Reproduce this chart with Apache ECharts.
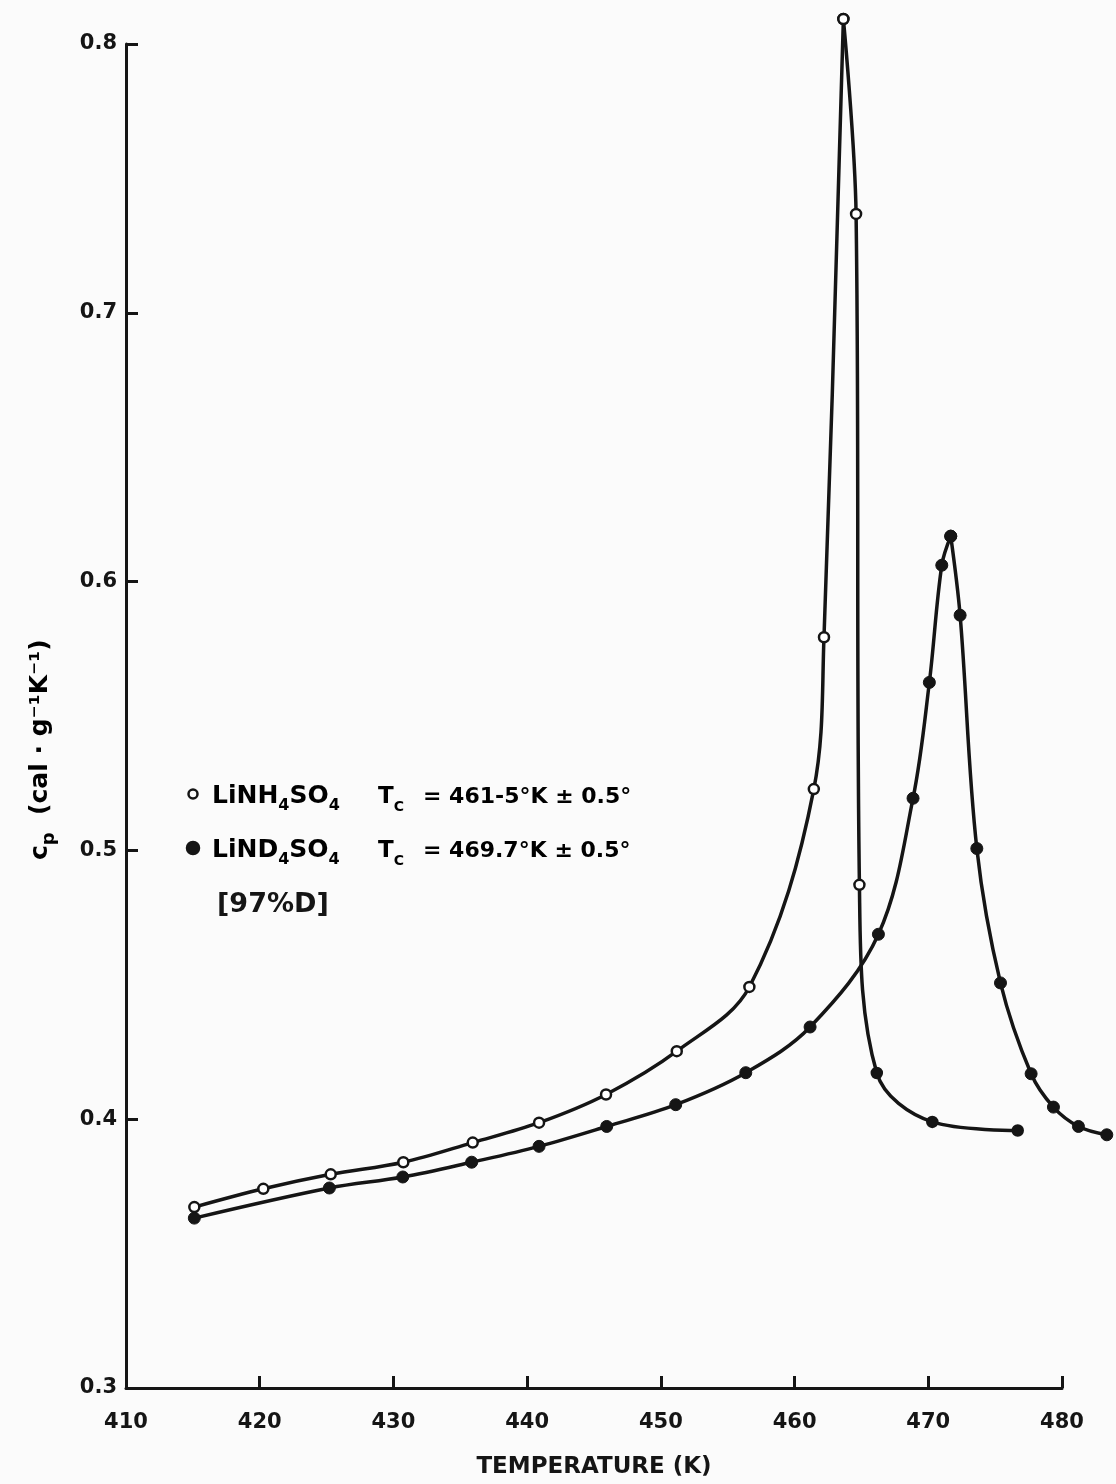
<!DOCTYPE html>
<html>
<head>
<meta charset="utf-8">
<script src="https://cdn.jsdelivr.net/npm/echarts@6/dist/echarts.min.js"></script>
<style>
html,body{margin:0;padding:0;background:#fbfbfb;}
#c{width:1116px;height:1484px;}
</style>
</head>
<body>
<div id="c"></div>
<script>
// Axis ticks
const xTicks = [410, 420, 430, 440, 450, 460, 470, 480];
const yTicks = [0.3, 0.4, 0.5, 0.6, 0.7, 0.8];

// LiNH4SO4 (open circles)
const nh4T  = [415.11, 420.27, 425.31, 430.74, 435.93, 440.89, 445.90, 451.19, 456.62, 461.44, 462.20, 463.65, 464.60, 464.85, 466.15, 470.30, 476.69];
const nh4Cp = [0.3673, 0.3741, 0.3795, 0.3840, 0.3913, 0.3987, 0.4092, 0.4253, 0.4492, 0.5228, 0.5793, 0.8093, 0.7368, 0.4872, 0.4172, 0.3990, 0.3958];

// LiND4SO4 (filled circles)
const nd4T  = [415.11, 425.21, 430.70, 435.85, 440.89, 445.95, 451.11, 456.35, 461.16, 466.27, 468.86, 470.08, 471.01, 471.68, 472.38, 473.63, 475.40, 477.69, 479.36, 481.23, 483.35];
const nd4Cp = [0.3632, 0.3744, 0.3785, 0.3840, 0.3899, 0.3973, 0.4054, 0.4173, 0.4343, 0.4688, 0.5194, 0.5625, 0.6061, 0.6169, 0.5875, 0.5007, 0.4507, 0.4169, 0.4045, 0.3973, 0.3942];

const legendRows = [
  { name: 'LiNH{s|4}SO{s|4}', tc: '= 461-5°K ± 0.5°' },
  { name: 'LiND{s|4}SO{s|4}', tc: '= 469.7°K ± 0.5°' }
];
const note = '[97%D]';
const xName = 'TEMPERATURE (K)';
const yName = '{b|c}{s|p}{b|  (cal · g⁻¹K⁻¹)}';

const ink = '#151515';
const bg = '#fbfbfb';
const font = 'DejaVu Sans';

const chart = echarts.init(document.getElementById('c'), null, { renderer: 'canvas' });

const zip = (a, b) => a.map((v, i) => [v, b[i]]);
function splitAtPeak(T, Cp) {
  const k = Cp.indexOf(Math.max(...Cp));
  const pts = zip(T, Cp);
  return [pts.slice(0, k + 1), pts.slice(k)];
}
const nh4Parts = splitAtPeak(nh4T, nh4Cp);
const nd4Parts = splitAtPeak(nd4T, nd4Cp);
const nh4PeakT = nh4Parts[0][nh4Parts[0].length - 1][0];

// plot geometry
const gLeft = 126, gRight = 54, gTop = 44, gBottom = 96, W = 1116;
const xMin = xTicks[0], xMax = xTicks[xTicks.length - 1];
const pxPerK = (W - gLeft - gRight) / (xMax - xMin);
const xMaxData = 484; // hidden axis reaching past the drawn axis end
const dataGridWidth = pxPerK * (xMaxData - xMin);

const subRich = (size) => ({
  b: { fontFamily: font, fontWeight: 'bold', fontSize: size, color: ink, lineHeight: size + 10 },
  s: { fontFamily: font, fontWeight: 'bold', fontSize: Math.round(size * 0.62), color: ink, lineHeight: Math.round(size * 0.62), verticalAlign: 'bottom' }
});

const graphics = [];
legendRows.forEach((r, i) => {
  const y = 797 + i * 54;
  graphics.push({
    type: 'circle', shape: { cx: 193, cy: y - 3, r: i === 0 ? 4.5 : 6 },
    style: { fill: i === 0 ? bg : ink, stroke: ink, lineWidth: 2.5 }
  });
  graphics.push({
    type: 'text', left: 212, top: y - 13,
    style: { text: '{b|' + r.name.replace(/\{s\|4\}/g, '}{s|4}{b|') + '}', rich: subRich(25) }
  });
  graphics.push({
    type: 'text', left: 378, top: y - 11,
    style: { text: '{b|T}{s|C}', rich: subRich(23) }
  });
  graphics.push({
    type: 'text', left: 423, top: y - 11,
    style: { text: '{b|' + r.tc + '}', rich: subRich(22) }
  });
});
graphics.push({
  type: 'text', left: 217, top: 891,
  style: { text: note, fontFamily: font, fontWeight: 'bold', fontSize: 27, fill: ink }
});
// y axis name (rotated)
graphics.push({
  type: 'text', x: 22, y: 860, rotation: Math.PI / 2,
  style: {
    text: yName,
    rich: {
      b: { fontFamily: font, fontWeight: 'bold', fontSize: 25, color: ink, lineHeight: 36 },
      s: { fontFamily: font, fontWeight: 'bold', fontSize: 18, color: ink, lineHeight: 18, verticalAlign: 'bottom' }
    },
    verticalAlign: 'top', align: 'left'
  }
});

const labelStyle = { fontFamily: font, fontWeight: 'bold', fontSize: 21, color: ink };
const hiddenAxis = { show: false, splitLine: { show: false } };

const lineCommon = {
  type: 'line', xAxisIndex: 1, yAxisIndex: 1,
  clip: false, smooth: 0.35, showAllSymbol: true, symbol: 'circle',
  lineStyle: { color: ink, width: 3.5 }
};
const nh4Item = {
  color: p => (p.value[0] > nh4PeakT + 2 ? ink : '#ffffff'),
  borderColor: ink, borderWidth: 2.5
};
const nd4Item = { color: ink, borderColor: ink, borderWidth: 1 };

const option = {
  backgroundColor: bg,
  animation: false,
  grid: [
    { left: gLeft, right: gRight, top: gTop, bottom: gBottom, containLabel: false },
    { left: gLeft, width: dataGridWidth, top: gTop, bottom: gBottom, containLabel: false }
  ],
  xAxis: [
    {
      gridIndex: 0, type: 'value', min: xMin, max: xMax, interval: 10,
      name: xName, nameLocation: 'middle', nameGap: 68,
      nameTextStyle: { fontFamily: font, fontWeight: 'bold', fontSize: 23, color: ink },
      axisLine: { lineStyle: { color: ink, width: 3 } },
      axisTick: { inside: true, length: 12, lineStyle: { color: ink, width: 3 } },
      axisLabel: Object.assign({ margin: 24 }, labelStyle),
      splitLine: { show: false }
    },
    Object.assign({ gridIndex: 1, type: 'value', min: xMin, max: xMaxData }, hiddenAxis)
  ],
  yAxis: [
    {
      gridIndex: 0, type: 'value', min: yTicks[0], max: yTicks[yTicks.length - 1], interval: 0.1,
      axisLine: { lineStyle: { color: ink, width: 3 } },
      axisTick: { inside: true, length: 12, lineStyle: { color: ink, width: 3 } },
      axisLabel: Object.assign({ margin: 9, formatter: v => v.toFixed(1) }, labelStyle),
      splitLine: { show: false }
    },
    Object.assign({ gridIndex: 1, type: 'value', min: yTicks[0], max: yTicks[yTicks.length - 1] }, hiddenAxis)
  ],
  series: [
    Object.assign({}, lineCommon, { name: 'LiNH4SO4', data: nh4Parts[0], symbolSize: 10, itemStyle: nh4Item, z: 4 }),
    Object.assign({}, lineCommon, { name: 'LiNH4SO4', data: nh4Parts[1], symbolSize: 10, itemStyle: nh4Item, z: 4 }),
    Object.assign({}, lineCommon, { name: 'LiND4SO4', data: nd4Parts[0], symbolSize: 12, itemStyle: nd4Item, z: 3 }),
    Object.assign({}, lineCommon, { name: 'LiND4SO4', data: nd4Parts[1], symbolSize: 12, itemStyle: nd4Item, z: 3 })
  ],
  graphic: graphics
};
chart.setOption(option);
</script>
</body>
</html>
